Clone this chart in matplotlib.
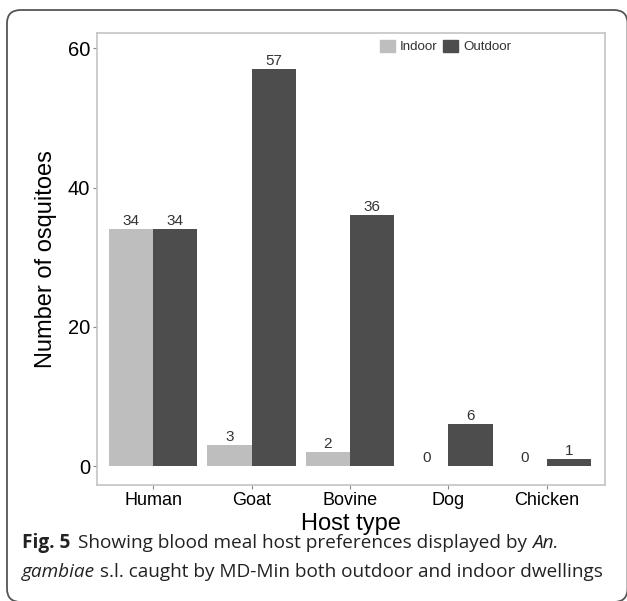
import matplotlib.pyplot as plt
import numpy as np
from matplotlib.patches import FancyBboxPatch, Patch

# data
hosts = ['Human', 'Goat', 'Bovine', 'Dog', 'Chicken']
indoor = [34, 3, 2, 0, 0]
outdoor = [34, 57, 36, 6, 1]

indoor_col = '#bebebe'
outdoor_col = '#4d4d4d'
frame_col = '#c4c4c4'

plt.rcParams['font.family'] = ['Liberation Sans', 'DejaVu Sans']

fig = plt.figure(figsize=(6.27, 6.01), dpi=100)

# rounded outer box round figure + caption (bottom/right edges sit at the border)
box = FancyBboxPatch((7 / 627, -1 / 601), (627.5 - 7) / 627, (591 + 1) / 601,
                     boxstyle='round,pad=0,rounding_size=0.022',
                     transform=fig.transFigure, fill=False,
                     edgecolor='#555555', linewidth=1.3)
fig.patches.append(box)

ax = fig.add_axes([97 / 627, 1 - 485 / 601, (605 - 97) / 627, (485 - 33) / 601])

x = np.arange(1, len(hosts) + 1)
w = 0.45
ax.bar(x - w / 2, indoor, width=w, color=indoor_col, label='Indoor')
ax.bar(x + w / 2, outdoor, width=w, color=outdoor_col, label='Outdoor')

# value labels above bars
for xi, v in zip(x - w / 2, indoor):
    ax.text(xi, v + 0.2, str(v), ha='center', va='bottom', fontsize=11,
            color='#333333')
for xi, v in zip(x + w / 2, outdoor):
    ax.text(xi, v + 0.2, str(v), ha='center', va='bottom', fontsize=11,
            color='#333333')

ax.set_xlim(0.43, 5.59)
ax.set_ylim(-2.7, 62.2)
ax.set_xticks(x)
ax.set_xticklabels(hosts, fontsize=13)
ax.set_yticks([0, 20, 40, 60])
ax.set_yticklabels(['0', '20', '40', '60'], fontsize=14.5)
ax.tick_params(length=3, color='#888888', width=0.8, pad=2)
for s in ax.spines.values():
    s.set_color(frame_col)
    s.set_linewidth(1.2)

ax.set_ylabel('Number of osquitoes', fontsize=17, labelpad=8)
ax.set_xlabel('Host type', fontsize=17, labelpad=3)

handles = [Patch(color=indoor_col, label='Indoor'),
           Patch(color=outdoor_col, label='Outdoor')]
leg = ax.legend(handles=handles, loc='upper left',
                bbox_to_anchor=((376 - 97) / 508 - 0.005, 1.0),
                ncol=2, frameon=False, fontsize=9.6, handlelength=1.1,
                handleheight=1.0, handletextpad=0.4, columnspacing=0.4,
                borderaxespad=0.3, borderpad=0.2)
for txt in leg.get_texts():
    txt.set_color('#333333')

# caption
cap_font = ['Open Sans', 'DejaVu Sans']
cap_size = 13.7
y1 = 1 - 543 / 601
y2 = 1 - 572 / 601
t0 = fig.text(22 / 627, y1, 'Fig. 5', fontsize=cap_size, fontweight='bold',
              family=cap_font, va='center', color='#222222')
fig.canvas.draw()
bb0 = t0.get_window_extent()
t = fig.text((bb0.x1 + 8) / 627, y1,
             'Showing blood meal host preferences displayed by ',
             fontsize=cap_size, family=cap_font, va='center', color='#222222')
fig.canvas.draw()
bb = t.get_window_extent()
fig.text(bb.x1 / 627, y1, 'An.', fontsize=cap_size, family=cap_font,
         style='italic', va='center', color='#222222')
t2 = fig.text(22 / 627, y2, 'gambiae', fontsize=cap_size,
              family=cap_font, style='italic', va='center', color='#222222')
fig.canvas.draw()
bb2 = t2.get_window_extent()
fig.text(bb2.x1 / 627, y2,
         ' s.l. caught by MD-Min both outdoor and indoor dwellings',
         fontsize=cap_size, family=cap_font, va='center', color='#222222')

fig.savefig('out.png', dpi=100)
